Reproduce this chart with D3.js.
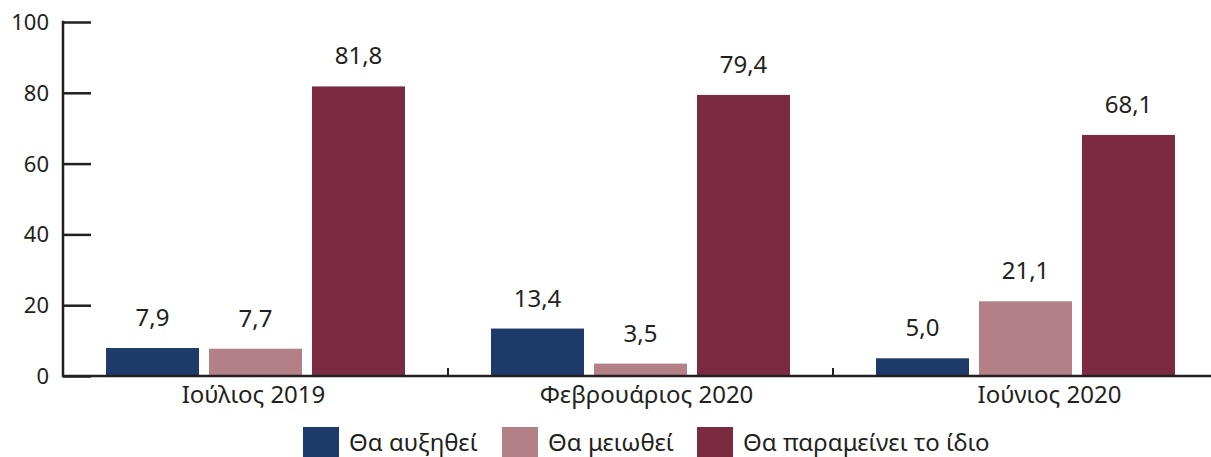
<!DOCTYPE html>
<html>
<head>
<meta charset="utf-8">
<script src="https://cdn.jsdelivr.net/npm/d3@7"></script>
<style>
  body { margin: 0; background: #fff; }
  text { font-family: "Noto Sans", sans-serif; fill: #231f20; }
</style>
</head>
<body>
<div class="board"></div>
<script>
var categories = ["Ιούλιος 2019", "Φεβρουάριος 2020", "Ιούνιος 2020"]
var seriesNames = ["Θα αυξηθεί", "Θα μειωθεί", "Θα παραμείνει το ίδιο"]
var increase = [7.9, 13.4, 5.0]
var decrease = [7.7, 3.5, 21.1]
var same = [81.8, 79.4, 68.1]
var yTicks = [0, 20, 40, 60, 80, 100]
var colors = ["#1d3a6a", "#b38087", "#7b2a42"]

var width = 1211, height = 457
var margin = { top: 22, right: -7, bottom: 81, left: 63 }

var svg = d3.select(".board")
    .append("svg")
    .attr("width", width)
    .attr("height", height)

var series = [increase, decrease, same]
var rows = categories.map((c, i) => ({ cat: c, values: series.map(s => s[i]) }))

let x0 = d3.scaleBand()
    .domain(categories)
    .range([margin.left, width - margin.right])
    .paddingInner(0)
    .paddingOuter(0)

let x1 = d3.scaleBand()
    .domain(d3.range(series.length))
    .range([43, x0.bandwidth() - 43])
    .paddingInner(0.097)

let y = d3.scaleLinear()
    .domain([0, 100])
    .range([height - margin.bottom, margin.top])

function fmt(v) {
    return v.toFixed(1).replace(".", ",")
}

// bars
let groups = svg.selectAll(".group")
    .data(rows)
    .enter()
    .append("g")
    .attr("transform", d => `translate(${x0(d.cat)},0)`)

groups.selectAll("rect")
    .data(d => d.values)
    .enter()
    .append("rect")
    .attr("x", (d, i) => x1(i))
    .attr("width", x1.bandwidth())
    .attr("y", d => y(d))
    .attr("height", d => y(0) - y(d))
    .attr("fill", (d, i) => colors[i])

groups.selectAll(".val")
    .data(d => d.values)
    .enter()
    .append("text")
    .attr("x", (d, i) => x1(i) + x1.bandwidth() / 2)
    .attr("y", d => y(d) - 22)
    .attr("text-anchor", "middle")
    .attr("font-size", 24)
    .text(d => fmt(d))

// y axis
let yAxis = svg.append("g")
    .attr("transform", `translate(${margin.left},0)`)
    .call(d3.axisRight(y).tickValues(yTicks).tickSize(28).tickFormat(d => d))
yAxis.select(".domain").remove()
yAxis.selectAll(".tick line").attr("stroke", "#231f20").attr("stroke-width", 2.5)
yAxis.selectAll(".tick text")
    .attr("x", -14)
    .attr("dy", "0.34em")
    .attr("text-anchor", "end")
    .attr("font-size", 22)
    .attr("fill", "#231f20")
    .style("font-family", '"Noto Sans", sans-serif')

svg.append("line")
    .attr("x1", margin.left).attr("x2", margin.left)
    .attr("y1", y(100) - 1.25).attr("y2", y(0) + 1.25)
    .attr("stroke", "#231f20").attr("stroke-width", 2.5)

// x axis
svg.append("line")
    .attr("x1", margin.left).attr("x2", width)
    .attr("y1", y(0)).attr("y2", y(0))
    .attr("stroke", "#231f20").attr("stroke-width", 2.5)

svg.selectAll(".sep")
    .data(categories.slice(1))
    .enter()
    .append("line")
    .attr("x1", d => x0(d)).attr("x2", d => x0(d))
    .attr("y1", y(0) - 8).attr("y2", y(0))
    .attr("stroke", "#231f20").attr("stroke-width", 2)

var labelShift = [-2, 6, 24]
svg.selectAll(".cat")
    .data(categories)
    .enter()
    .append("text")
    .attr("x", (d, i) => x0(d) + x0.bandwidth() / 2 + labelShift[i])
    .attr("y", 403)
    .attr("text-anchor", "middle")
    .attr("font-size", 24)
    .text(d => d)

// legend
var legendX = [303, 502, 697]
let legend = svg.selectAll(".legend")
    .data(seriesNames)
    .enter()
    .append("g")
    .attr("transform", (d, i) => `translate(${legendX[i]},427)`)

legend.append("rect")
    .attr("width", 36)
    .attr("height", 30)
    .attr("fill", (d, i) => colors[i])

legend.append("text")
    .attr("x", 46)
    .attr("y", 24)
    .attr("font-size", 24)
    .text(d => d)
</script>
</body>
</html>
